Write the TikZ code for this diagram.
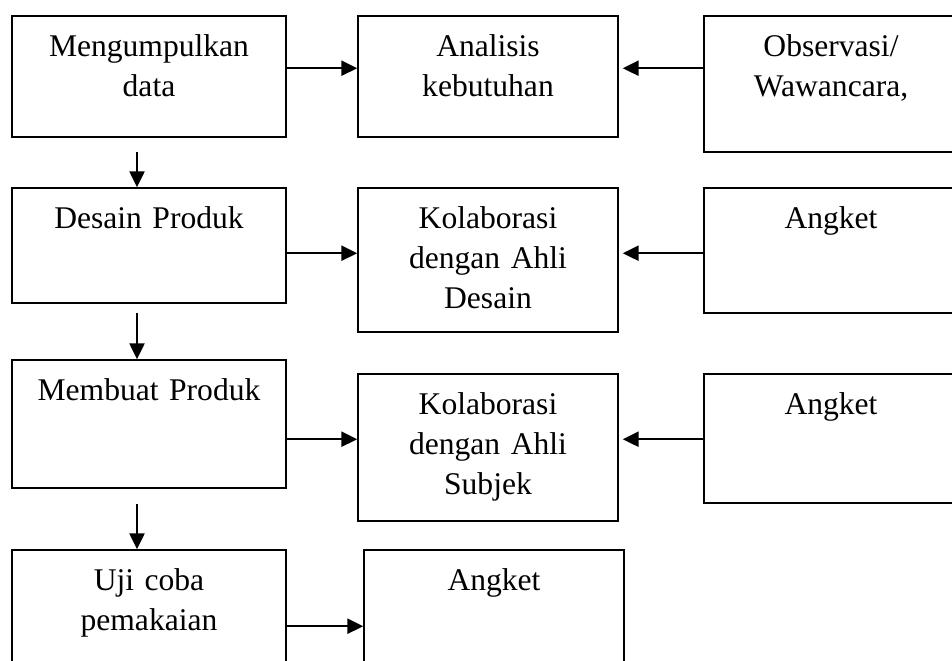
\documentclass[tikz,border=0pt]{standalone}
\usepackage{fontspec}
\setmainfont{Liberation Serif}
\usetikzlibrary{fit,arrows.meta}

\tikzset{
  kotak/.style={draw, line width=0.6pt, inner sep=0pt},
  teks/.style={anchor=base, align=center, text width=100pt, inner sep=0pt,
    font=\fontsize{12}{15.2}\selectfont},
  panah/.style={line width=0.75pt, -{Triangle[length=6pt,width=5.7pt]}}
}

\begin{document}
\begin{tikzpicture}[x=0.38pt, y=-0.38pt]

	\useasboundingbox (0,0) rectangle (952,660);
	\clip (0,0) rectangle (952,660);

	% Kotak kolom kiri
	\node[kotak, fit={(12,16) (286,137)}] (kumpul) {};
	\node[kotak, fit={(12,188) (286,303)}] (desain) {};
	\node[kotak, fit={(12,360) (286,488)}] (buat) {};
	\node[kotak, fit={(12,550) (286,700)}] (uji) {};

	% Kotak kolom tengah
	\node[kotak, fit={(358,16) (618,137)}] (analisis) {};
	\node[kotak, fit={(358,188) (618,332)}] (kolabA) {};
	\node[kotak, fit={(358,374) (618,521)}] (kolabB) {};
	\node[kotak, fit={(364,550) (624,700)}] (angketC) {};

	% Kotak kolom kanan
	\node[kotak, fit={(704,16) (958,152)}] (obs) {};
	\node[kotak, fit={(704,188) (958,313)}] (angketA) {};
	\node[kotak, fit={(704,374) (958,503)}] (angketB) {};

	% Teks
	\node[teks] (kumpul-t) at ([yshift=-15.6pt]kumpul.north) {Mengumpulkan\\data};
	\node[teks] (desain-t) at ([yshift=-15.6pt]desain.north) {Desain Produk};
	\node[teks] (buat-t) at ([yshift=-15.6pt]buat.north) {Membuat Produk};
	\node[teks] (uji-t) at ([yshift=-15.6pt]uji.north) {Uji coba\\pemakaian};
	\node[teks] (analisis-t) at ([yshift=-15.6pt]analisis.north) {Analisis\\kebutuhan};
	\node[teks] (kolabA-t) at ([yshift=-15.6pt]kolabA.north) {Kolaborasi\\dengan Ahli\\Desain};
	\node[teks] (kolabB-t) at ([yshift=-15.6pt]kolabB.north) {Kolaborasi\\dengan Ahli\\Subjek};
	\node[teks] (angketC-t) at ([yshift=-15.6pt]angketC.north) {Angket};
	\node[teks] (obs-t) at ([yshift=-15.6pt]obs.north) {Observasi/\\Wawancara,};
	\node[teks] (angketA-t) at ([yshift=-15.6pt]angketA.north) {Angket};
	\node[teks] (angketB-t) at ([yshift=-15.6pt]angketB.north) {Angket};

	% Panah mendatar
	\coordinate (baris1) at ([yshift=-20.14pt]kumpul.north east);
	\coordinate (baris2) at ([yshift=-25.08pt]desain.north east);
	\coordinate (baris3) at ([yshift=-30.4pt]buat.north east);
	\coordinate (baris4) at ([yshift=-29.26pt]uji.north east);
	\draw[panah] (baris1) -- (baris1 -| analisis.west);
	\draw[panah, shorten >=1.5pt] (baris1 -| obs.west) -- (baris1 -| analisis.east);
	\draw[panah] (baris2) -- (baris2 -| kolabA.west);
	\draw[panah, shorten >=1.5pt] (baris2 -| angketA.west) -- (baris2 -| kolabA.east);
	\draw[panah] (baris3) -- (baris3 -| kolabB.west);
	\draw[panah, shorten >=1.5pt] (baris3 -| angketB.west) -- (baris3 -| kolabB.east);
	\draw[panah] (baris4) -- (baris4 -| angketC.west);

	% Panah turun
	\coordinate (kolom) at ([xshift=-4.56pt]kumpul.south);
	\draw[panah, shorten <=5.3pt] (kolom) -- (kolom |- desain.north);
	\draw[panah, shorten <=3.4pt] (kolom |- desain.south) -- (kolom |- buat.north);
	\draw[panah, shorten <=5.7pt] (kolom |- buat.south) -- (kolom |- uji.north);

\end{tikzpicture}
\end{document}
